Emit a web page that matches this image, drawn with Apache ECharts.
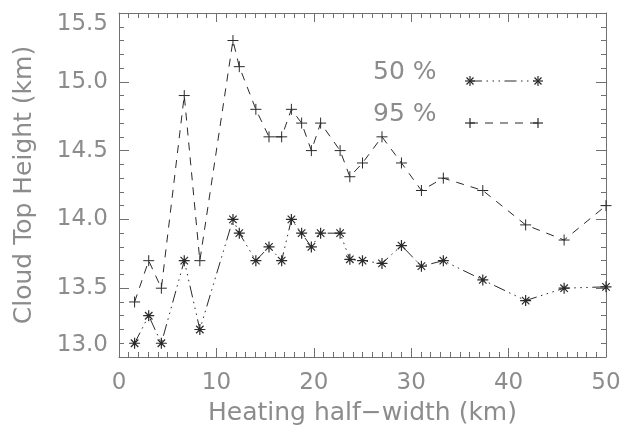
<!DOCTYPE html>
<html>
<head>
<meta charset="utf-8">
<script src="https://cdn.jsdelivr.net/npm/echarts@6/dist/echarts.min.js"></script>
<style>
  html, body { margin: 0; padding: 0; background: #ffffff; }
  #chart { width: 632px; height: 432px; }
</style>
</head>
<body>
<div id="chart"></div>
<script>
// Heating half-width (km) at which each cloud-top height was evaluated
var halfWidth = [1.6, 3.05, 4.35, 6.7, 8.3, 11.7, 12.35, 14.05, 15.4, 16.7, 17.7, 18.75, 19.75,
                 20.7, 22.7, 23.7, 25.0, 27.0, 29.0, 31.05, 33.3, 37.35, 41.75, 45.7, 50.0];
// 50th-percentile cloud-top height (km)
var top50 = [13.10, 13.30, 13.10, 13.70, 13.20, 14.00, 13.90, 13.70, 13.80, 13.70, 14.00, 13.90, 13.80,
             13.90, 13.90, 13.71, 13.70, 13.68, 13.81, 13.66, 13.70, 13.56, 13.41, 13.50, 13.51];
// 95th-percentile cloud-top height (km)
var top95 = [13.40, 13.70, 13.50, 14.90, 13.70, 15.30, 15.11, 14.80, 14.60, 14.60, 14.80, 14.70, 14.50,
             14.70, 14.50, 14.31, 14.41, 14.60, 14.41, 14.21, 14.30, 14.21, 13.96, 13.85, 14.10];
var seriesNames = ['50 %', '95 %'];
var xTicks = [0, 10, 20, 30, 40, 50];
var yTicks = [13.0, 13.5, 14.0, 14.5, 15.0, 15.5];

var INK = '#2a2a2a';
var AXIS = '#707070';
var TEXT = '#8c8c8c';
var FONT = 'DejaVu Sans';

var dashDotDotDot = [12, 4.5, 1.5, 4.5, 1.5, 4.5, 1.5, 4.5];
var dashed = [8, 7];

var asteriskPath = 'path://M5 0L5 10M0 5L10 5M1.6 1.6L8.4 8.4M8.4 1.6L1.6 8.4';
var plusPath = 'path://M5 0L5 10M0 5L10 5';

function pairs(xs, ys) {
  return xs.map(function (x, i) { return [x, ys[i]]; });
}

function xAxisDef(pos, showLabel) {
  return {
    type: 'value', position: pos,
    min: xTicks[0], max: xTicks[xTicks.length - 1], interval: xTicks[1] - xTicks[0],
    name: showLabel ? 'Heating half\u2212width (km)' : '',
    nameLocation: 'middle', nameGap: 44,
    nameTextStyle: { fontFamily: FONT, fontSize: 25, color: TEXT },
    axisLine: { show: true, onZero: false, lineStyle: { color: AXIS, width: 1 } },
    axisTick: { show: true, inside: true, length: 9, lineStyle: { color: AXIS } },
    minorTick: { show: true, splitNumber: 10, length: 5, lineStyle: { color: AXIS } },
    axisLabel: { show: showLabel, margin: 15, fontFamily: FONT, fontSize: 23, color: TEXT },
    splitLine: { show: false }
  };
}

function yAxisDef(pos, showLabel) {
  return {
    type: 'value', position: pos,
    min: yTicks[0], max: yTicks[yTicks.length - 1], interval: yTicks[1] - yTicks[0],
    name: showLabel ? 'Cloud Top Height (km)' : '',
    nameLocation: 'middle', nameGap: 82, nameRotate: 90,
    nameTextStyle: { fontFamily: FONT, fontSize: 25, color: TEXT },
    axisLine: { show: true, onZero: false, lineStyle: { color: AXIS, width: 1 } },
    axisTick: { show: true, inside: true, length: 10, lineStyle: { color: AXIS } },
    minorTick: { show: true, splitNumber: 5, length: 5, lineStyle: { color: AXIS } },
    axisLabel: {
      show: showLabel, margin: 11, fontFamily: FONT, fontSize: 23, color: TEXT,
      formatter: function (v) { return v.toFixed(1); },
      verticalAlignMinLabel: 'bottom', verticalAlignMaxLabel: 'top'
    },
    splitLine: { show: false }
  };
}

// Legend sample: label, a line segment in the series style, and a marker at each end
var LEGEND_TEXT_X = 373, LEGEND_X0 = 470, LEGEND_X1 = 538;
function legendEntry(label, y, dash, markerSegs) {
  var children = [
    { type: 'text', x: LEGEND_TEXT_X, y: y - 9,
      style: { text: label, font: '25px ' + FONT, fill: TEXT, textVerticalAlign: 'middle' } },
    { type: 'line', shape: { x1: LEGEND_X0, y1: y, x2: LEGEND_X1, y2: y },
      style: { stroke: INK, lineWidth: 1, lineDash: dash } }
  ];
  [LEGEND_X0, LEGEND_X1].forEach(function (cx) {
    markerSegs.forEach(function (s) {
      children.push({ type: 'line',
        shape: { x1: cx + s[0], y1: y + s[1], x2: cx + s[2], y2: y + s[3] },
        style: { stroke: INK, lineWidth: 1.2 } });
    });
  });
  return { type: 'group', x: 0, y: 0, children: children };
}

var asteriskSegs = [[0, -5, 0, 5], [-5, 0, 5, 0], [-3.5, -3.5, 3.5, 3.5], [3.5, -3.5, -3.5, 3.5]];
var plusSegs = [[0, -5, 0, 5], [-5, 0, 5, 0]];

var chart = echarts.init(document.getElementById('chart'), null, { renderer: 'canvas' });
chart.setOption({
  animation: false,
  backgroundColor: '#ffffff',
  grid: { left: 119, right: 26, top: 13, bottom: 75, containLabel: false },
  xAxis: [xAxisDef('bottom', true), xAxisDef('top', false)],
  yAxis: [yAxisDef('left', true), yAxisDef('right', false)],
  series: [
    {
      name: seriesNames[0], type: 'line', xAxisIndex: 0, yAxisIndex: 0,
      data: pairs(halfWidth, top50),
      symbol: asteriskPath, symbolSize: 11,
      itemStyle: { color: INK, borderColor: INK, borderWidth: 1.2 },
      lineStyle: { color: INK, width: 1, type: dashDotDotDot }
    },
    {
      name: seriesNames[1], type: 'line', xAxisIndex: 0, yAxisIndex: 0,
      data: pairs(halfWidth, top95),
      symbol: plusPath, symbolSize: 11,
      itemStyle: { color: INK, borderColor: INK, borderWidth: 1 },
      lineStyle: { color: INK, width: 1, type: dashed }
    }
  ],
  graphic: [
    legendEntry(seriesNames[0], 81, dashDotDotDot, asteriskSegs),
    legendEntry(seriesNames[1], 123, dashed, plusSegs)
  ]
});
</script>
</body>
</html>
